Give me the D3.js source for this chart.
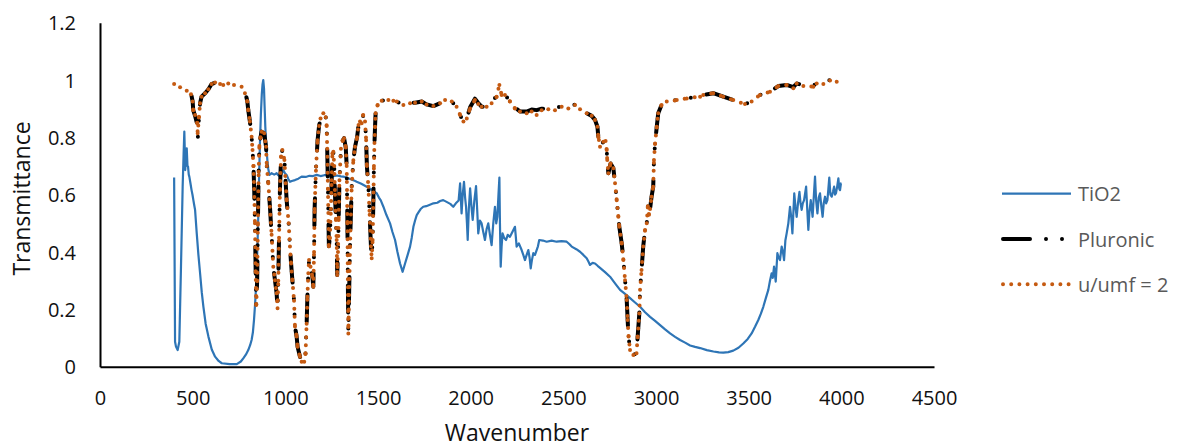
<!DOCTYPE html>
<html>
<head>
<meta charset="utf-8">
<script src="https://cdn.jsdelivr.net/npm/d3@7/dist/d3.min.js"></script>
<style>
  html, body { margin: 0; padding: 0; background: #fff; }
  svg { display: block; font-family: "Open Sans", "Noto Sans", sans-serif; }
</style>
</head>
<body>
<svg id="chart" width="1179" height="448"></svg>
<script>
// ---------- DATA ----------
const seriesNames = ["TiO2", "Pluronic", "u/umf = 2"];
const xTicks = [0, 500, 1000, 1500, 2000, 2500, 3000, 3500, 4000, 4500];
const xTickLabels = ["0", "500", "1000", "1500", "2000", "2500", "3000", "3500", "4000", "4500"];
const yTicks = [0, 0.2, 0.4, 0.6, 0.8, 1.0, 1.2];
const yTickLabels = ["0", "0.2", "0.4", "0.6", "0.8", "1", "1.2"];
const xTitle = "Wavenumber";
const yTitle = "Transmittance";

// [wavenumber, transmittance]
const tio2 = [
[400,0.66],[405,0.087],[410,0.07],[419,0.058],[428,0.087],[437,0.35],[446,0.628],[451,0.74],[455,0.82],[460,0.686],[464,0.73],[468,0.762],[472,0.70],[475,0.698],[479,0.67],[482,0.663],[488,0.64],[494,0.616],[499,0.60],[504,0.58],[508,0.565],[513,0.547],[522,0.465],[531,0.39],[540,0.326],[549,0.26],[558,0.209],[570,0.15],[585,0.105],[603,0.06],[621,0.035],[640,0.02],[657,0.012],[700,0.009],[738,0.009],[760,0.018],[773,0.029],[787,0.042],[800,0.058],[810,0.075],[818,0.093],[825,0.12],[831,0.163],[837,0.22],[842,0.279],[845,0.326],[850,0.43],[854,0.523],[858,0.65],[863,0.78],[868,0.88],[873,0.95],[877,0.985],[881,1.0],[885,0.97],[888,0.91],[892,0.837],[897,0.77],[903,0.721],[908,0.69],[914,0.669],[920,0.672],[926,0.675],[940,0.67],[953,0.675],[962,0.668],[971,0.663],[980,0.672],[989,0.686],[998,0.675],[1007,0.669],[1016,0.655],[1025,0.645],[1035,0.648],[1052,0.651],[1070,0.656],[1088,0.663],[1110,0.662],[1130,0.666],[1150,0.665],[1169,0.669],[1190,0.665],[1210,0.668],[1241,0.669],[1260,0.665],[1280,0.667],[1300,0.664],[1313,0.663],[1330,0.66],[1350,0.655],[1370,0.65],[1385,0.645],[1410,0.638],[1439,0.628],[1460,0.62],[1475,0.612],[1493,0.605],[1505,0.59],[1515,0.58],[1529,0.558],[1545,0.53],[1565,0.5],[1578,0.47],[1592,0.442],[1605,0.40],[1619,0.36],[1633,0.331],[1646,0.36],[1660,0.39],[1673,0.419],[1682,0.45],[1691,0.488],[1700,0.51],[1709,0.529],[1720,0.54],[1730,0.55],[1744,0.558],[1760,0.56],[1780,0.565],[1799,0.57],[1820,0.572],[1835,0.578],[1852,0.581],[1870,0.575],[1890,0.568],[1906,0.558],[1920,0.57],[1935,0.58],[1943,0.64],[1951,0.535],[1957,0.6],[1964,0.645],[1970,0.59],[1975,0.558],[1980,0.5],[1984,0.442],[1990,0.55],[1997,0.622],[2004,0.56],[2011,0.512],[2020,0.58],[2029,0.63],[2035,0.55],[2041,0.465],[2050,0.51],[2059,0.5],[2068,0.47],[2077,0.442],[2086,0.48],[2095,0.5],[2104,0.46],[2113,0.424],[2122,0.5],[2131,0.558],[2138,0.5],[2144,0.523],[2150,0.6],[2155,0.66],[2158,0.5],[2162,0.349],[2167,0.42],[2172,0.465],[2180,0.45],[2191,0.442],[2200,0.46],[2212,0.453],[2225,0.47],[2239,0.488],[2244,0.45],[2248,0.419],[2260,0.43],[2275,0.407],[2284,0.39],[2293,0.372],[2302,0.39],[2311,0.407],[2318,0.38],[2324,0.343],[2330,0.37],[2338,0.396],[2347,0.39],[2356,0.407],[2363,0.42],[2370,0.442],[2390,0.44],[2410,0.436],[2437,0.44],[2464,0.436],[2490,0.438],[2518,0.436],[2532,0.428],[2545,0.419],[2570,0.41],[2590,0.401],[2608,0.39],[2626,0.378],[2636,0.366],[2644,0.355],[2658,0.362],[2671,0.36],[2685,0.352],[2698,0.345],[2725,0.33],[2752,0.314],[2780,0.29],[2806,0.268],[2833,0.254],[2860,0.239],[2887,0.224],[2914,0.209],[2941,0.19],[2968,0.174],[2995,0.16],[3022,0.145],[3049,0.13],[3076,0.116],[3103,0.104],[3130,0.093],[3157,0.084],[3184,0.074],[3211,0.069],[3238,0.065],[3274,0.058],[3310,0.053],[3340,0.05],[3363,0.049],[3390,0.051],[3417,0.056],[3445,0.066],[3471,0.081],[3495,0.097],[3516,0.116],[3535,0.14],[3552,0.163],[3566,0.185],[3579,0.209],[3593,0.24],[3606,0.268],[3615,0.30],[3624,0.326],[3630,0.31],[3637,0.349],[3646,0.297],[3655,0.396],[3662,0.38],[3669,0.372],[3678,0.419],[3685,0.40],[3691,0.372],[3698,0.44],[3705,0.465],[3714,0.5],[3723,0.558],[3730,0.52],[3736,0.465],[3746,0.605],[3752,0.56],[3759,0.523],[3766,0.57],[3774,0.61],[3780,0.57],[3786,0.547],[3792,0.57],[3799,0.581],[3810,0.628],[3816,0.55],[3822,0.477],[3828,0.54],[3835,0.581],[3845,0.523],[3852,0.60],[3858,0.663],[3864,0.58],[3871,0.535],[3878,0.59],[3885,0.605],[3892,0.56],[3899,0.523],[3905,0.57],[3912,0.593],[3918,0.57],[3925,0.581],[3930,0.62],[3935,0.66],[3941,0.6],[3948,0.593],[3955,0.61],[3961,0.628],[3966,0.6],[3971,0.605],[3978,0.63],[3984,0.657],[3989,0.62],[3993,0.616],[3998,0.64],[4000,0.64]
];

const pluronic = [
[494,0.945],[500,0.925],[503,0.895],[513,0.875],[525,0.845],[528,0.80],[534,0.868],[540,0.919],[548,0.942],[567,0.954],[585,0.968],[602,0.986],[621,0.991],[648,0.986],[665,0.983],[666,null],
[790,0.94],[795,0.925],[800,0.895],[809,0.855],[818,0.802],[823,0.756],[828,0.70],[832,0.62],[836,0.50],[840,0.33],[843,0.215],[848,0.30],[852,0.50],[856,0.68],[860,0.77],[866,0.80],[872,0.82],[886,0.814],[896,0.767],[900,0.70],[908,0.64],[917,0.558],[926,0.46],[935,0.349],[944,0.302],[953,0.256],[958,0.204],[962,0.30],[966,0.45],[971,0.62],[977,0.733],[984,0.756],[995,0.721],[1002,0.64],[1007,0.581],[1018,0.50],[1025,0.419],[1031,0.36],[1038,0.302],[1047,0.23],[1052,0.14],[1061,0.105],[1066,0.07],[1079,0.035],[1088,0.017],[1102,0.017],[1109,0.047],[1115,0.15],[1119,0.244],[1124,0.326],[1128,0.372],[1136,0.349],[1146,0.314],[1151,0.279],[1155,0.40],[1158,0.55],[1162,0.628],[1166,0.698],[1174,0.79],[1182,0.84],[1190,0.866],[1205,0.884],[1218,0.87],[1223,0.84],[1226,0.76],[1230,0.62],[1235,0.42],[1240,0.45],[1246,0.55],[1250,0.65],[1254,0.744],[1259,0.75],[1264,0.70],[1268,0.60],[1273,0.512],[1277,0.442],[1280,0.32],[1284,0.40],[1288,0.52],[1292,0.65],[1300,0.76],[1310,0.79],[1317,0.797],[1326,0.765],[1331,0.70],[1335,0.50],[1338,0.25],[1340,0.12],[1344,0.25],[1349,0.419],[1358,0.628],[1367,0.72],[1376,0.767],[1387,0.80],[1395,0.843],[1403,0.855],[1412,0.849],[1420,0.875],[1430,0.855],[1436,0.79],[1440,0.70],[1448,0.628],[1455,0.53],[1462,0.42],[1466,0.385],[1471,0.442],[1475,0.58],[1478,0.70],[1481,0.78],[1484,0.837],[1487,0.884],[1498,0.913],[1520,0.928],[1556,0.93],[1583,0.928],[1601,0.925],[1637,0.913],[1673,0.919],[1700,0.921],[1736,0.925],[1762,0.915],[1799,0.909],[1835,0.919],[1862,0.930],[1898,0.925],[1924,0.907],[1943,0.878],[1961,0.855],[1979,0.866],[1997,0.905],[2023,0.935],[2041,0.92],[2059,0.907],[2086,0.907],[2113,0.922],[2140,0.945],[2155,0.955],[2167,0.95],[2185,0.948],[2212,0.928],[2239,0.905],[2266,0.89],[2302,0.89],[2329,0.897],[2356,0.895],[2383,0.9],[2419,0.9],[2455,0.905],[2491,0.907],[2527,0.905],[2563,0.915],[2590,0.9],[2626,0.884],[2653,0.875],[2671,0.861],[2684,0.837],[2689,0.80],[2692,0.791],[2698,0.767],[2716,0.785],[2728,0.787],[2734,0.756],[2737,0.721],[2743,0.675],[2755,0.709],[2770,0.692],[2779,0.64],[2788,0.581],[2797,0.523],[2802,0.488],[2815,0.43],[2824,0.372],[2833,0.302],[2842,0.233],[2847,0.163],[2852,0.105],[2860,0.058],[2878,0.041],[2895,0.047],[2901,0.105],[2910,0.186],[2914,0.268],[2922,0.337],[2931,0.419],[2941,0.477],[2950,0.50],[2956,0.56],[2962,0.53],[2968,0.55],[2976,0.593],[2985,0.628],[2989,0.721],[2995,0.779],[3004,0.837],[3012,0.884],[3030,0.913],[3058,0.925],[3112,0.930],[3166,0.936],[3238,0.942],[3255,0.948],[3309,0.954],[3363,0.942],[3417,0.93],[3480,0.916],[3516,0.925],[3561,0.948],[3615,0.959],[3660,0.979],[3705,0.983],[3741,0.975],[3759,0.988],[3795,0.982],[3849,0.98],[3867,0.99],[3903,0.99],[3939,1.0],[3975,0.998],[4000,0.998]
];

const uumf2 = [
[400,0.986],[432,0.975],[468,0.963],[491,0.950],[500,0.925],[503,0.895],[513,0.878],[525,0.849],[527,0.814],[534,0.872],[540,0.919],[548,0.942],[567,0.954],[585,0.968],[602,0.986],[621,0.991],[648,0.986],[665,0.983],[692,0.988],[723,0.983],[764,0.977],[782,0.954],[795,0.925],[800,0.895],[809,0.855],[818,0.802],[823,0.756],[828,0.70],[832,0.62],[836,0.50],[840,0.33],[843,0.215],[848,0.30],[852,0.50],[856,0.68],[860,0.77],[866,0.80],[872,0.82],[886,0.814],[896,0.767],[900,0.70],[908,0.64],[917,0.558],[926,0.46],[935,0.349],[944,0.302],[953,0.256],[958,0.204],[962,0.30],[966,0.45],[971,0.62],[977,0.733],[984,0.756],[995,0.721],[1002,0.64],[1007,0.581],[1018,0.50],[1025,0.419],[1031,0.36],[1038,0.302],[1047,0.23],[1052,0.14],[1061,0.105],[1066,0.07],[1079,0.035],[1088,0.017],[1102,0.017],[1109,0.047],[1115,0.15],[1119,0.244],[1124,0.326],[1128,0.372],[1136,0.349],[1146,0.314],[1151,0.279],[1155,0.40],[1158,0.55],[1162,0.628],[1166,0.698],[1174,0.79],[1182,0.84],[1190,0.866],[1205,0.884],[1218,0.87],[1223,0.84],[1226,0.76],[1230,0.62],[1235,0.42],[1240,0.45],[1246,0.55],[1250,0.65],[1254,0.744],[1259,0.75],[1264,0.70],[1268,0.60],[1273,0.512],[1277,0.442],[1280,0.32],[1284,0.40],[1288,0.52],[1292,0.65],[1300,0.76],[1310,0.79],[1317,0.797],[1326,0.765],[1331,0.70],[1335,0.50],[1338,0.25],[1340,0.116],[1344,0.25],[1349,0.419],[1358,0.628],[1367,0.72],[1376,0.767],[1387,0.80],[1395,0.843],[1403,0.855],[1412,0.849],[1420,0.878],[1430,0.855],[1436,0.79],[1440,0.70],[1448,0.628],[1455,0.53],[1462,0.42],[1466,0.378],[1471,0.442],[1475,0.58],[1478,0.70],[1481,0.78],[1484,0.837],[1487,0.884],[1498,0.913],[1520,0.928],[1556,0.93],[1583,0.928],[1601,0.925],[1637,0.913],[1673,0.919],[1700,0.921],[1736,0.925],[1762,0.915],[1799,0.909],[1835,0.919],[1862,0.930],[1898,0.925],[1924,0.907],[1943,0.878],[1961,0.855],[1979,0.866],[1997,0.901],[2023,0.930],[2041,0.916],[2059,0.907],[2086,0.907],[2113,0.919],[2140,0.942],[2155,0.983],[2167,0.948],[2185,0.948],[2212,0.925],[2239,0.901],[2266,0.89],[2302,0.884],[2329,0.89],[2356,0.878],[2383,0.895],[2419,0.898],[2455,0.895],[2491,0.907],[2527,0.901],[2563,0.913],[2590,0.898],[2626,0.884],[2653,0.875],[2671,0.861],[2684,0.837],[2689,0.80],[2692,0.791],[2698,0.767],[2716,0.785],[2728,0.787],[2734,0.756],[2737,0.721],[2743,0.675],[2755,0.709],[2770,0.692],[2779,0.64],[2788,0.581],[2797,0.523],[2802,0.488],[2815,0.43],[2824,0.372],[2833,0.302],[2842,0.233],[2847,0.163],[2852,0.105],[2860,0.058],[2878,0.041],[2895,0.047],[2901,0.105],[2910,0.186],[2914,0.268],[2922,0.337],[2931,0.419],[2941,0.477],[2950,0.50],[2956,0.56],[2962,0.53],[2968,0.55],[2976,0.593],[2985,0.628],[2989,0.721],[2995,0.779],[3004,0.837],[3012,0.884],[3030,0.913],[3058,0.925],[3112,0.930],[3166,0.936],[3238,0.942],[3255,0.948],[3309,0.954],[3363,0.942],[3417,0.93],[3480,0.916],[3516,0.925],[3561,0.948],[3615,0.959],[3660,0.979],[3705,0.983],[3741,0.971],[3759,0.988],[3795,0.979],[3849,0.977],[3867,0.988],[3903,0.986],[3939,0.998],[3975,0.994],[4000,0.991]
];

// ---------- LAYOUT ----------
const svg = d3.select("#chart");
const W = 1179, H = 448;
svg.append("rect").attr("width", W).attr("height", H).attr("fill", "#fff");

const plot = { left: 100, right: 934, top: 22.7, bottom: 366.7 };
const x = d3.scaleLinear().domain([0, 4500]).range([plot.left, plot.right]);
const y = d3.scaleLinear().domain([0, 1.2]).range([plot.bottom, plot.top]);

const colors = { tio2: "#2E75B6", plu: "#000000", uu: "#C55A11" };
const line = d3.line().defined(d => d[1] != null).x(d => x(d[0])).y(d => y(d[1]));
const PLU_DASH = "27 16 0 16 0 16";

// ---------- SERIES ----------
const gSeries = svg.append("g");
gSeries.append("path")
  .datum(tio2)
  .attr("d", line)
  .attr("fill", "none")
  .attr("stroke", colors.tio2)
  .attr("stroke-width", 2.2)
  .attr("stroke-linejoin", "round");

// Pluronic: long dash-dot-dot line
gSeries.append("path")
  .datum(pluronic)
  .attr("d", line)
  .attr("fill", "none")
  .attr("stroke", colors.plu)
  .attr("stroke-width", 4)
  .attr("stroke-linecap", "round")
  .attr("stroke-linejoin", "round")
  .attr("stroke-dasharray", PLU_DASH);

// u/umf = 2: round-dot line, dot pattern restarting at every data point
const pairs = d3.pairs(uumf2);
gSeries.append("g").selectAll("path").data(pairs).join("path")
  .attr("d", line)
  .attr("fill", "none")
  .attr("stroke", colors.uu)
  .attr("stroke-width", 4)
  .attr("stroke-linecap", "round")
  .attr("stroke-dasharray", "0 8");

// ---------- AXES ----------
const xAxis = d3.axisBottom(x).tickValues(xTicks).tickSize(0).tickPadding(0)
  .tickFormat((d, i) => xTickLabels[i]);
const gx = svg.append("g").attr("transform", `translate(0,${plot.bottom})`).call(xAxis);
gx.select(".domain").attr("stroke", "#000").attr("stroke-width", 2);
gx.selectAll("text")
  .attr("font-family", "Open Sans").attr("font-size", 20).attr("fill", "#111")
  .attr("dy", null).attr("y", 38.3);

const yAxis = d3.axisLeft(y).tickValues(yTicks).tickSize(0).tickPadding(0)
  .tickFormat((d, i) => yTickLabels[i]);
const gy = svg.append("g").attr("transform", `translate(${plot.left},0)`).call(yAxis);
gy.select(".domain").attr("stroke", "#000").attr("stroke-width", 2);
gy.selectAll("text")
  .attr("font-family", "Open Sans").attr("font-size", 20).attr("fill", "#111")
  .attr("x", -24).attr("dy", "0.35em");

// axis titles
svg.append("text")
  .attr("x", (plot.left + plot.right) / 2).attr("y", 441)
  .attr("text-anchor", "middle")
  .attr("font-family", "Open Sans").attr("font-size", 23).attr("fill", "#111")
  .text(xTitle);
svg.append("text")
  .attr("transform", "translate(30,198.5) rotate(-90)")
  .attr("text-anchor", "middle")
  .attr("font-family", "Open Sans").attr("font-size", 23).attr("fill", "#111")
  .text(yTitle);

// ---------- LEGEND ----------
const legendRows = [
  { name: seriesNames[0], y: 193.7, stroke: colors.tio2, width: 2.2, dash: null, cap: "butt", x1: 1002, x2: 1071 },
  { name: seriesNames[1], y: 239, stroke: colors.plu, width: 4, dash: PLU_DASH, cap: "round", x1: 1003, x2: 1069 },
  { name: seriesNames[2], y: 284.3, stroke: colors.uu, width: 4, dash: "0 8.2", cap: "round", x1: 1003, x2: 1070 }
];
const gLeg = svg.append("g");
legendRows.forEach(r => {
  gLeg.append("line")
    .attr("x1", r.x1).attr("x2", r.x2).attr("y1", r.y).attr("y2", r.y)
    .attr("stroke", r.stroke).attr("stroke-width", r.width)
    .attr("stroke-linecap", r.cap)
    .attr("stroke-dasharray", r.dash);
  gLeg.append("text")
    .attr("x", 1078).attr("y", r.y + 7.5)
    .attr("font-family", "Open Sans").attr("font-size", 20).attr("fill", "#595959")
    .text(r.name);
});
</script>
</body>
</html>
